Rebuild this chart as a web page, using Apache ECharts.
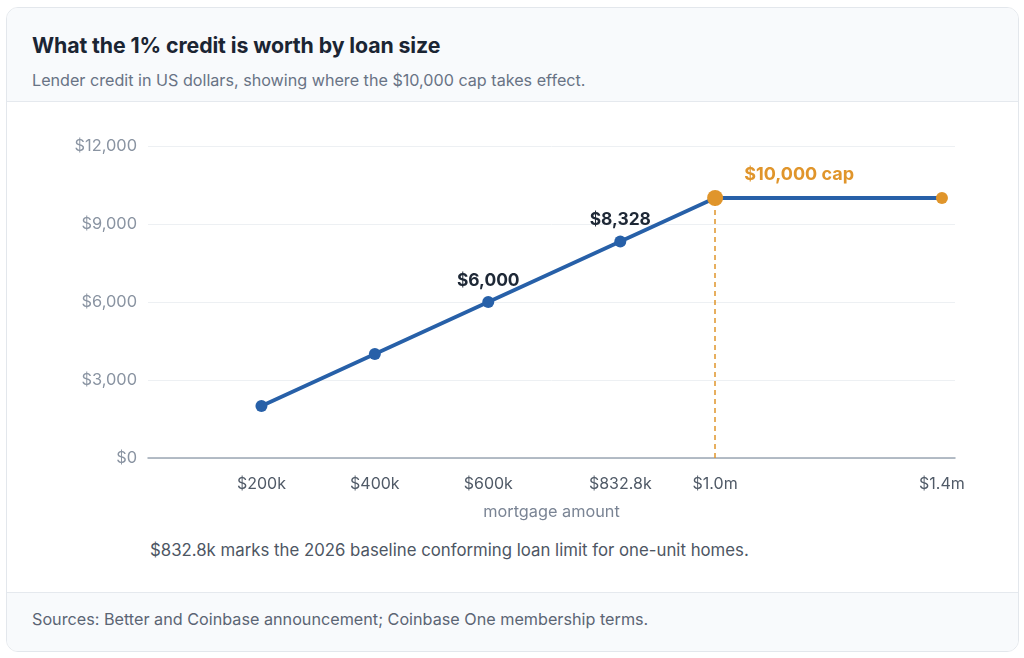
<!DOCTYPE html>
<html>
<head>
<meta charset="utf-8">
<script src="https://cdn.jsdelivr.net/npm/echarts@6/dist/echarts.min.js"></script>
<style>
  html, body { margin: 0; padding: 0; background: #ffffff; font-family: Inter, "Noto Sans", sans-serif; }
  body { width: 1024px; height: 658px; position: relative; overflow: hidden; }
  .card { position: absolute; left: 6px; top: 7px; width: 1011px; height: 643px; border: 1px solid #e3e7ec; border-radius: 12px; overflow: hidden; background: #fff; }
  .head { position: absolute; left: 0; top: 0; right: 0; height: 93px; background: #f8fafc; border-bottom: 1px solid #e5e9ee; }
  .head h1 { position: absolute; left: 25px; top: 24px; margin: 0; font-size: 21.3px; font-weight: 700; color: #1b2533; letter-spacing: -0.1px; }
  .head p { position: absolute; left: 25px; top: 62px; margin: 0; font-size: 16.15px; color: #687385; }
  .note { position: absolute; left: 143px; top: 532px; font-size: 16.8px; color: #4d5663; }
  .foot { position: absolute; left: 0; right: 0; bottom: 0; height: 58px; background: #f8fafc; border-top: 1px solid #e5e9ee; }
  .foot p { position: absolute; left: 25px; top: 16px; margin: 0; font-size: 16.2px; color: #5b6574; }
  #chart { position: absolute; left: 0; top: 0; width: 1024px; height: 658px; }
</style>
</head>
<body>
<div class="card">
  <div class="head">
    <h1>What the 1% credit is worth by loan size</h1>
    <p>Lender credit in US dollars, showing where the $10,000 cap takes effect.</p>
  </div>
  <div class="note">$832.8k marks the 2026 baseline conforming loan limit for one-unit homes.</div>
  <div class="foot">
    <p>Sources: Better and Coinbase announcement; Coinbase One membership terms.</p>
  </div>
</div>
<div id="chart"></div>
<script>
// loan sizes (US$) and the 1% credit at each, capped at $10,000
var loanAmounts = [200000, 400000, 600000, 832800, 1000000, 1400000];
var creditValues = [2000, 4000, 6000, 8328, 10000, 10000];
var xTicks = [200000, 400000, 600000, 832800, 1000000, 1400000];
var yTicks = [0, 3000, 6000, 9000, 12000];
var capLoan = 1000000;
var capValue = 10000;
var labelledLoans = [600000, 832800];

var blue = '#2760a8';
var orange = '#e0952b';

function money(v) {
	return '$' + v.toLocaleString('en-US');
}
function loanLabel(v) {
	if (v >= 1000000) return '$' + (v / 1000000).toFixed(1) + 'm';
	return '$' + (v / 1000) + 'k';
}

var points = loanAmounts.map(function(x, i) {
	var item = { value: [x, creditValues[i]] };
	if (labelledLoans.indexOf(x) >= 0) {
		item.label = {
			show: true,
			position: 'top',
			distance: 7,
			formatter: money(creditValues[i]),
			color: '#1e2836',
			fontSize: 17.4,
			fontWeight: 700
		};
	}
	if (x === capLoan) {
		item.symbolSize = 16;
		item.itemStyle = { color: orange };
		item.label = {
			show: true,
			position: 'top',
			distance: 6,
			offset: [84, 0],
			formatter: money(capValue) + ' cap',
			color: orange,
			fontSize: 18,
			fontWeight: 700
		};
	} else if (x > capLoan) {
		item.itemStyle = { color: orange };
	}
	return item;
});

var chart = echarts.init(document.getElementById('chart'));

var option = {
	animation: false,
	textStyle: { fontFamily: 'Inter, "Noto Sans", sans-serif' },
	grid: { left: 148, right: 69, top: 146, bottom: 200 },
	xAxis: {
		type: 'value',
		min: 0,
		max: 1423000,
		name: 'mortgage amount',
		nameLocation: 'middle',
		nameGap: 46,
		nameTextStyle: { color: '#7a8494', fontSize: 16.3 },
		axisLine: { show: true, lineStyle: { color: '#9ca7b4', width: 1.5 } },
		axisTick: { show: false },
		splitLine: { show: false },
		axisLabel: {
			customValues: xTicks,
			margin: 18,
			color: '#505a67',
			fontSize: 16,
			formatter: loanLabel
		}
	},
	yAxis: {
		type: 'value',
		min: 0,
		max: 12000,
		interval: 3000,
		axisLine: { show: false },
		axisTick: { show: false },
		splitLine: { lineStyle: { color: '#edf0f3', width: 1 } },
		axisLabel: {
			margin: 11,
			color: '#8a94a2',
			fontSize: 16.4,
			formatter: function(v) { return yTicks.indexOf(v) >= 0 ? money(v) : ''; }
		}
	},
	series: [{
		type: 'line',
		data: points,
		symbol: 'circle',
		symbolSize: 12,
		lineStyle: { color: blue, width: 3.8 },
		itemStyle: { color: blue },
		z: 3,
		markLine: {
			silent: true,
			symbol: 'none',
			label: { show: false },
			lineStyle: { color: orange, width: 1.5, type: [5, 4] },
			data: [[{ coord: [capLoan, 0] }, { coord: [capLoan, capValue] }]],
			z: 1
		}
	}]
};

chart.setOption(option);
</script>
</body>
</html>
